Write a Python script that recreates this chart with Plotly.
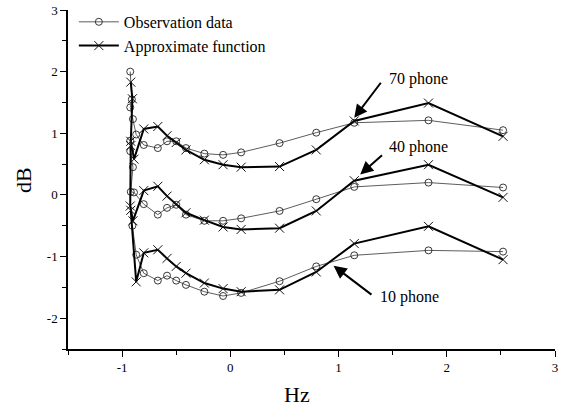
import plotly.graph_objects as go

# shared x positions of the main (non-spike) part
x_main = [-0.80, -0.67, -0.585, -0.50, -0.41, -0.24, -0.067, 0.10, 0.455, 0.794, 1.145, 1.831, 2.52]

# 70 phone
obs70_x = [-0.925, -0.91, -0.925, -0.90, -0.87] + x_main
obs70_y = [2.00, 1.55, 1.42, 1.23, 0.98,
           0.81, 0.76, 0.87, 0.87, 0.76, 0.67, 0.65, 0.69, 0.84, 1.01, 1.17, 1.21, 1.05]
app70_x = [-0.92, -0.905, -0.92, -0.89] + x_main
app70_y = [1.83, 1.56, 0.87, 0.58,
           1.07, 1.11, 0.96, 0.85, 0.73, 0.57, 0.49, 0.45, 0.46, 0.73, 1.20, 1.49, 0.95]

# 40 phone
obs40_x = [-0.925, -0.925, -0.90, -0.92, -0.89] + x_main
obs40_y = [0.88, 0.71, 0.45, 0.05, 0.04,
           -0.15, -0.32, -0.21, -0.16, -0.32, -0.42, -0.42, -0.38, -0.26, -0.07, 0.13, 0.20, 0.12]
app40_x = [-0.92, -0.925, -0.90] + x_main
app40_y = [0.80, -0.18, -0.42,
           0.07, 0.14, -0.02, -0.15, -0.29, -0.41, -0.52, -0.56, -0.54, -0.26, 0.23, 0.49, -0.04]

# 10 phone
obs10_x = [-0.905, -0.87] + x_main
obs10_y = [-0.50, -0.97,
           -1.27, -1.39, -1.31, -1.39, -1.46, -1.57, -1.64, -1.59, -1.40, -1.16, -0.98, -0.90, -0.92]
app10_x = [-0.92, -0.87] + x_main
app10_y = [-0.25, -1.41,
           -0.94, -0.89, -1.03, -1.16, -1.27, -1.43, -1.52, -1.57, -1.54, -1.25, -0.79, -0.51, -1.05]

x_ticks = [-1, 0, 1, 2, 3]
y_ticks = [-2, -1, 0, 1, 2, 3]

labels = [("70 phone", 1.145, 1.25, 27.7, -36.6, 1.449, 1.876),
          ("40 phone", 1.20, 0.33, 23.3, -20.7, 1.449, 0.774),
          ("10 phone", 0.954, -1.15, 39.4, 30.0, 1.369, -1.653)]

FONT = "Liberation Serif, Times New Roman, serif"

fig = go.Figure()
obs_style = dict(mode="lines+markers", line=dict(color="#333333", width=0.8),
                 marker=dict(symbol="circle-open", size=7, color="#222222", line=dict(width=0.9)))
app_style = dict(mode="lines+markers", line=dict(color="black", width=2),
                 marker=dict(symbol="x-thin-open", size=9, color="#111111", line=dict(width=1)))

series = [(obs70_x, obs70_y, obs_style, "Observation data", True),
          (app70_x, app70_y, app_style, "Approximate function", True),
          (obs40_x, obs40_y, obs_style, "Observation data", False),
          (app40_x, app40_y, app_style, "Approximate function", False),
          (obs10_x, obs10_y, obs_style, "Observation data", False),
          (app10_x, app10_y, app_style, "Approximate function", False)]
for xs, ys, st, name, show in series:
    fig.add_trace(go.Scatter(x=xs, y=ys, name=name, showlegend=show, **st))

for text, tx, ty, ax, ay, lx, ly in labels:
    fig.add_annotation(x=tx, y=ty, xref="x", yref="y", ax=ax, ay=ay, text="",
                       showarrow=True, arrowhead=2, arrowsize=1.3, arrowwidth=2, arrowcolor="black")
    fig.add_annotation(x=lx, y=ly, xref="x", yref="y", text=text, showarrow=False,
                       xanchor="left", yanchor="middle", font=dict(size=16, color="black", family=FONT))

# axis titles
fig.add_annotation(x=(297 - 68) / 487, y=-(395 - 349) / 339, xref="paper", yref="paper", text="Hz",
                   showarrow=False, xanchor="center", yanchor="middle",
                   font=dict(size=22, color="black", family=FONT))
fig.add_annotation(x=-(68 - 23) / 487, y=(349 - 180) / 339, xref="paper", yref="paper", text="dB",
                   showarrow=False, textangle=-90, xanchor="center", yanchor="middle",
                   font=dict(size=22, color="black", family=FONT))

axis_common = dict(showgrid=False, zeroline=False, showline=True, linecolor="black", linewidth=1.5,
                   ticks="outside", ticklen=6, tickwidth=1.2, tickcolor="black", automargin=False,
                   tickfont=dict(size=13, color="black", family=FONT),
                   minor=dict(ticks="outside", ticklen=4, tickwidth=1.2, tickcolor="black", dtick=0.5))
fig.update_xaxes(range=[-1.5, 3], tickvals=x_ticks, ticktext=[str(v) for v in x_ticks], **axis_common)
fig.update_yaxes(range=[-2.5, 3], tickvals=y_ticks, ticktext=[str(v) for v in y_ticks], **axis_common)

fig.update_layout(width=561, height=408, margin=dict(l=68, r=6, t=10, b=59, autoexpand=False),
                  plot_bgcolor="white", paper_bgcolor="white",
                  font=dict(family=FONT, color="black"),
                  legend=dict(x=0.012, y=1.015, xanchor="left", yanchor="top", bgcolor="rgba(0,0,0,0)",
                              font=dict(size=16, family=FONT, color="black"),
                              tracegroupgap=0, itemwidth=40))

fig.write_html("out.html")
